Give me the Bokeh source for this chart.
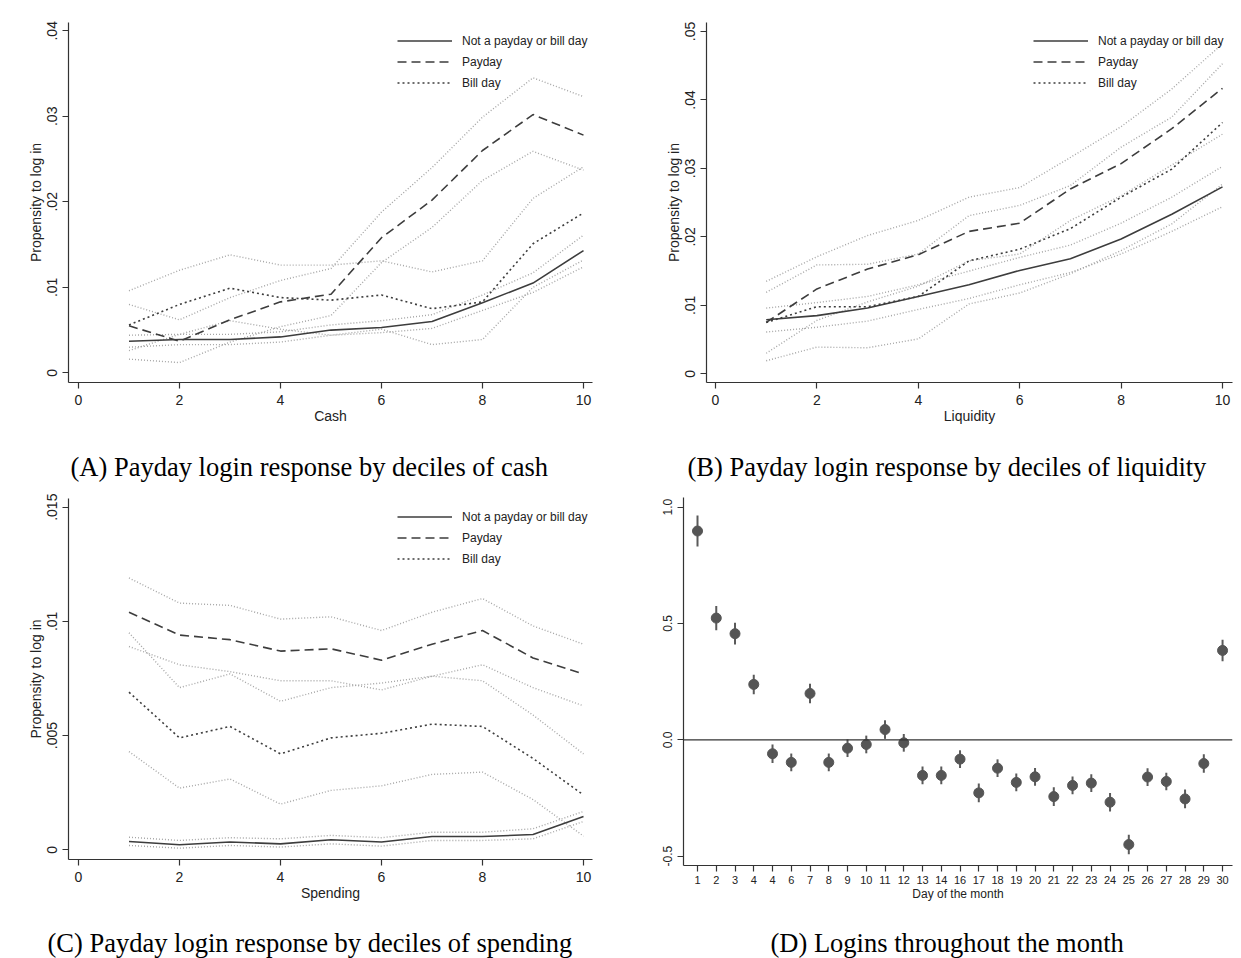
from bokeh.plotting import figure
from bokeh.models import (FixedTicker, CustomJSTickFormatter, Legend, LegendItem,
                          Label, Range1d, Span)
from bokeh.layouts import row, column
from bokeh.embed import file_html
from bokeh.resources import INLINE

# ---------------- data ----------------
deciles = [1, 2, 3, 4, 5, 6, 7, 8, 9, 10]

# (A) cash
a_none = [0.0037, 0.0039, 0.0039, 0.0042, 0.0050, 0.0053, 0.0060, 0.0082, 0.0105, 0.0143]
a_none_hi = [0.0044, 0.0045, 0.0045, 0.0048, 0.0056, 0.0061, 0.0068, 0.0091, 0.0117, 0.0161]
a_none_lo = [0.0030, 0.0033, 0.0033, 0.0036, 0.0044, 0.0047, 0.0052, 0.0073, 0.0094, 0.0124]
a_pay = [0.0055, 0.0037, 0.0062, 0.0083, 0.0092, 0.0158, 0.0202, 0.0260, 0.0302, 0.0278]
a_pay_hi = [0.0080, 0.0062, 0.0088, 0.0108, 0.0122, 0.0188, 0.0240, 0.0299, 0.0345, 0.0323]
a_pay_lo = [0.0016, 0.0012, 0.0036, 0.0054, 0.0067, 0.0129, 0.0170, 0.0225, 0.0259, 0.0237]
a_bill = [0.0056, 0.0080, 0.0099, 0.0088, 0.0085, 0.0091, 0.0075, 0.0083, 0.0151, 0.0187]
a_bill_hi = [0.0096, 0.0120, 0.0138, 0.0126, 0.0126, 0.0131, 0.0118, 0.0131, 0.0204, 0.0241]
a_bill_lo = [0.0026, 0.0045, 0.0061, 0.0051, 0.0044, 0.0051, 0.0033, 0.0039, 0.0100, 0.0132]

# (B) liquidity
b_none = [0.0079, 0.0085, 0.0096, 0.0113, 0.0130, 0.0151, 0.0168, 0.0197, 0.0233, 0.0273]
b_none_hi = [0.0096, 0.0104, 0.0113, 0.0130, 0.0150, 0.0170, 0.0188, 0.0220, 0.0258, 0.0303]
b_none_lo = [0.0061, 0.0068, 0.0077, 0.0094, 0.0110, 0.0130, 0.0148, 0.0175, 0.0208, 0.0244]
b_pay = [0.0075, 0.0124, 0.0153, 0.0174, 0.0208, 0.0220, 0.0270, 0.0307, 0.0358, 0.0417]
b_pay_hi = [0.0135, 0.0171, 0.0202, 0.0224, 0.0258, 0.0272, 0.0316, 0.0361, 0.0416, 0.0482]
b_pay_lo = [0.0030, 0.0078, 0.0105, 0.0128, 0.0165, 0.0175, 0.0224, 0.0260, 0.0305, 0.0350]
b_bill = [0.0075, 0.0098, 0.0098, 0.0113, 0.0165, 0.0182, 0.0212, 0.0258, 0.0299, 0.0367]
b_bill_hi = [0.0119, 0.0159, 0.0160, 0.0175, 0.0231, 0.0246, 0.0275, 0.0331, 0.0375, 0.0453]
b_bill_lo = [0.0019, 0.0039, 0.0038, 0.0051, 0.0102, 0.0118, 0.0146, 0.0180, 0.0219, 0.0277]

# (C) spending
c_none = [0.00036, 0.00022, 0.00034, 0.00026, 0.00044, 0.00034, 0.00058, 0.00058, 0.00067, 0.00146]
c_none_hi = [0.00055, 0.00041, 0.00053, 0.00048, 0.00063, 0.00053, 0.00077, 0.00077, 0.00092, 0.00168]
c_none_lo = [0.00019, 0.00007, 0.00019, 0.00012, 0.00026, 0.00016, 0.00041, 0.00041, 0.00048, 0.00124]
c_pay = [0.0104, 0.0094, 0.0092, 0.0087, 0.0088, 0.0083, 0.0090, 0.0096, 0.0084, 0.0077]
c_pay_hi = [0.0119, 0.0108, 0.0107, 0.0101, 0.0102, 0.0096, 0.0104, 0.0110, 0.0098, 0.0090]
c_pay_lo = [0.0089, 0.0081, 0.0078, 0.0074, 0.0074, 0.0070, 0.0076, 0.0081, 0.0071, 0.0063]
c_bill = [0.0069, 0.0049, 0.0054, 0.0042, 0.0049, 0.0051, 0.0055, 0.0054, 0.0040, 0.0024]
c_bill_hi = [0.0095, 0.0071, 0.0077, 0.0065, 0.0071, 0.0073, 0.0076, 0.0074, 0.0059, 0.0042]
c_bill_lo = [0.0043, 0.0027, 0.0031, 0.0020, 0.0026, 0.0028, 0.0033, 0.0034, 0.0022, 0.0006]

# (D) day of month
day_labels = ["1", "2", "3", "4", "4", "6", "7", "8", "9", "10", "11", "12", "13", "14",
              "16", "17", "18", "19", "20", "21", "22", "23", "24", "25", "26", "27",
              "28", "29", "30"]
d_coef = [0.897, 0.523, 0.456, 0.238, -0.060, -0.097, 0.199, -0.097, -0.036, -0.020,
          0.044, -0.013, -0.153, -0.153, -0.083, -0.228, -0.122, -0.183, -0.159, -0.244,
          -0.196, -0.186, -0.268, -0.450, -0.160, -0.179, -0.254, -0.102, 0.384]
d_err = [0.067, 0.052, 0.047, 0.042, 0.040, 0.038, 0.042, 0.038, 0.038, 0.038,
         0.040, 0.038, 0.038, 0.038, 0.038, 0.040, 0.038, 0.038, 0.038, 0.040,
         0.038, 0.038, 0.040, 0.042, 0.038, 0.038, 0.040, 0.040, 0.046]

legend_labels = ["Not a payday or bill day", "Payday", "Bill day"]
captions = ["(A) Payday login response by deciles of cash",
            "(B) Payday login response by deciles of liquidity",
            "(C) Payday login response by deciles of spending",
            "(D) Logins throughout the month"]

SANS = "Liberation Sans"
SERIF = "Liberation Serif"
DARK = "#3d3d3d"
CI = "#a6a6a6"
AX = "#333333"

yfmt = CustomJSTickFormatter(code="""
if (tick == 0) { return "0"; }
var s = String(Number(tick.toFixed(6)));
return s.replace(/^0\\./, ".").replace(/^-0\\./, "-.");
""")


def style_axes(p):
    for ax in (p.xaxis[0], p.yaxis[0]):
        ax.axis_line_color = AX
        ax.axis_line_width = 1.2
        ax.major_tick_line_color = AX
        ax.major_tick_line_width = 1.2
        ax.major_tick_out = 6
        ax.major_tick_in = 0
        ax.minor_tick_line_color = None
        ax.major_label_text_font = SANS
        ax.major_label_text_color = "#222222"
        ax.axis_label_text_font = SANS
        ax.axis_label_text_font_style = "normal"
        ax.axis_label_text_color = "#222222"
    p.xgrid.grid_line_color = None
    p.ygrid.grid_line_color = None
    p.outline_line_color = None
    p.background_fill_color = "white"
    p.border_fill_color = "white"


def caption_fig(width, height, text, left, y_mid):
    c = figure(width=width, height=height, output_backend="svg", toolbar_location=None,
               x_range=Range1d(0, width), y_range=Range1d(0, height),
               x_axis_type=None, y_axis_type=None, min_border=0, frame_align=False)
    c.xgrid.grid_line_color = None
    c.ygrid.grid_line_color = None
    c.outline_line_color = None
    c.border_fill_color = "white"
    c.add_layout(Label(x=left, y=y_mid, text=text, text_font=SERIF,
                       text_font_size="26.5px", text_color="black",
                       text_align="left", text_baseline="middle"))
    return c


def line_panel(width, height, borders, xr, yr, yticks, xlabel, series, legend_xy):
    bl, br, bt, bb = borders
    p = figure(width=width, height=height, output_backend="svg", toolbar_location=None,
               x_range=Range1d(*xr), y_range=Range1d(*yr),
               min_border_left=bl, min_border_right=br, min_border_top=bt,
               min_border_bottom=bb, frame_align=False)
    none, none_hi, none_lo, pay, pay_hi, pay_lo, bill, bill_hi, bill_lo = series
    for arr in (none_hi, none_lo, pay_hi, pay_lo, bill_hi, bill_lo):
        p.line(deciles, arr, line_color=CI, line_width=1.4, line_dash="1 2")
    r1 = p.line(deciles, none, line_color=DARK, line_width=1.6)
    r2 = p.line(deciles, pay, line_color=DARK, line_width=1.6, line_dash="9 5")
    r3 = p.line(deciles, bill, line_color=DARK, line_width=1.6, line_dash="2 3")
    p.xaxis.ticker = FixedTicker(ticks=[0, 2, 4, 6, 8, 10])
    p.yaxis.ticker = FixedTicker(ticks=yticks)
    p.yaxis.formatter = yfmt
    p.yaxis.major_label_orientation = "vertical"
    p.xaxis.axis_label = xlabel
    p.yaxis.axis_label = "Propensity to log in"
    style_axes(p)
    p.xaxis.major_label_text_font_size = "14px"
    p.yaxis.major_label_text_font_size = "14px"
    p.xaxis.axis_label_text_font_size = "14px"
    p.yaxis.axis_label_text_font_size = "14px"
    p.xaxis.major_label_standoff = 6
    p.xaxis.axis_label_standoff = 0
    p.yaxis.major_label_standoff = 5
    p.yaxis.axis_label_standoff = 1
    leg = Legend(items=[LegendItem(label=legend_labels[0], renderers=[r1]),
                        LegendItem(label=legend_labels[1], renderers=[r2]),
                        LegendItem(label=legend_labels[2], renderers=[r3])],
                 location=legend_xy, glyph_width=55, glyph_height=21, label_height=21,
                 spacing=0, padding=0, margin=0, label_standoff=10,
                 label_text_font=SANS, label_text_font_size="12px",
                 label_text_color="#222222",
                 border_line_alpha=0, background_fill_alpha=0)
    p.add_layout(leg)
    return p


# row 1 (plots 0..430, captions 430..486)
# panel A: frame x 68..592, y 22..382
pA = line_panel(620, 430, (68, 28, 22, 48), (-0.198, 10.178), (-0.00113, 0.04097),
                [0, 0.01, 0.02, 0.03, 0.04], "Cash",
                (a_none, a_none_hi, a_none_lo, a_pay, a_pay_hi, a_pay_lo,
                 a_bill, a_bill_hi, a_bill_lo), (329, 289))

# panel B: frame x 706..1232, y 22..382
pB = line_panel(621, 430, (86, 9, 22, 48), (-0.1775, 10.197), (-0.00127, 0.05131),
                [0, 0.01, 0.02, 0.03, 0.04, 0.05], "Liquidity",
                (b_none, b_none_hi, b_none_lo, b_pay, b_pay_hi, b_pay_lo,
                 b_bill, b_bill_hi, b_bill_lo), (327, 289))

capA = caption_fig(620, 56, captions[0], 70, 20)
capB = caption_fig(621, 56, captions[1], 67, 20)

# row 2 (plots 486..906, captions 906..958)
# panel C: frame x 68..592, y 498..859
pC = line_panel(620, 420, (68, 28, 12, 47), (-0.198, 10.178), (-0.000425, 0.01538),
                [0, 0.005, 0.01, 0.015], "Spending",
                (c_none, c_none_hi, c_none_lo, c_pay, c_pay_hi, c_pay_lo,
                 c_bill, c_bill_hi, c_bill_lo), (329, 290))

# panel D: frame x 683..1232, y 497..865
pos = list(range(1, len(d_coef) + 1))
lo = [c - e for c, e in zip(d_coef, d_err)]
hi = [c + e for c, e in zip(d_coef, d_err)]
pD = figure(width=621, height=420, output_backend="svg", toolbar_location=None,
            x_range=Range1d(0.253, 29.53), y_range=Range1d(-0.540, 1.041),
            min_border_left=63, min_border_right=9, min_border_top=11,
            min_border_bottom=41, frame_align=False)
pD.add_layout(Span(location=0, dimension="width", line_color="#333333", line_width=1.3))
pD.segment(x0=pos, y0=lo, x1=pos, y1=hi, line_color="#5a5a5a", line_width=2)
pD.scatter(pos, d_coef, size=10, fill_color="#555555", line_color="#555555")
pD.xaxis.ticker = FixedTicker(ticks=pos)
pD.xaxis.major_label_overrides = {i: lab for i, lab in zip(pos, day_labels)}
pD.yaxis.ticker = FixedTicker(ticks=[-0.5, 0, 0.5, 1.0])
pD.yaxis.major_label_overrides = {-0.5: "-0.5", 0: "0.0", 0.5: "0.5", 1.0: "1.0"}
pD.yaxis.major_label_orientation = "vertical"
pD.xaxis.axis_label = "Day of the month"
style_axes(pD)
pD.xaxis.major_label_text_font_size = "11px"
pD.yaxis.major_label_text_font_size = "12px"
pD.xaxis.axis_label_text_font_size = "12px"
pD.xaxis.major_label_standoff = 4
pD.xaxis.axis_label_standoff = 0
pD.yaxis.major_label_standoff = 5

capC = caption_fig(620, 52, captions[2], 47, 16)
capD = caption_fig(621, 52, captions[3], 150, 16)

layout = column(row(pA, pB), row(capA, capB), row(pC, pD), row(capC, capD))
open("out.html", "w").write(file_html(layout, INLINE))
